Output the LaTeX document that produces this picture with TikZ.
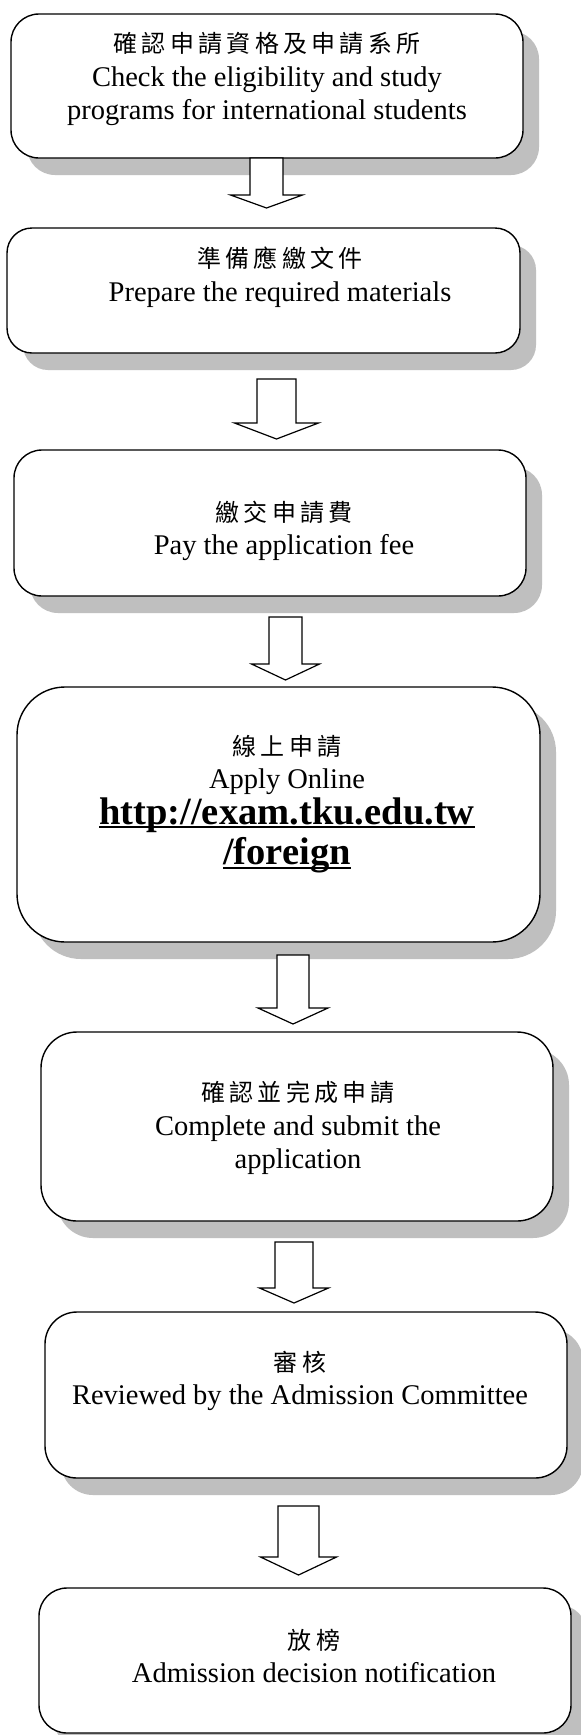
\documentclass[tikz,border=0pt]{standalone}
\usepackage{fontspec}
\setmainfont{Liberation Serif}
\newfontfamily\cjk[LetterSpace=18]{Noto Sans CJK TC}
\usetikzlibrary{calc,shadows}
\definecolor{shadowgray}{RGB}{191,191,191}
\newcommand\myul[1]{\setbox0=\hbox{#1}\rlap{\rule[-0.11em]{\wd0}{0.055em}}\box0}
\newcommand\flowarrow[5]{%
  \draw[blockarrow] ($(#1)+(-#4,0)$) -- ($(#1)+(-#4,#2)$) -- ($(#1)+(-#5,#2)$) -- ($(#1)+(0,#3)$) -- ($(#1)+(#5,#2)$) -- ($(#1)+(#4,#2)$) -- ($(#1)+(#4,0)$) -- cycle;}
\tikzset{
  flowbox/.style={draw=black, fill=white, line width=1.4pt, inner sep=0pt, outer sep=0pt,
    drop shadow={shadow xshift=16pt, shadow yshift=-17pt, fill=shadowgray, opacity=1}},
  blockarrow/.style={draw=black, fill=white, line width=1.2pt, line join=miter},
  txt/.style={align=center, inner sep=0pt, font=\fontsize{28.5}{33.5}\selectfont}
}
\newcommand\cj[1]{{\cjk\fontsize{24}{34}\selectfont #1}}
\begin{document}
\begin{tikzpicture}[x=1pt,y=-1pt]
\useasboundingbox (0,0) rectangle (581,1735);
\fill[white] (0,0) rectangle (581,1735);

% boxes
\node[flowbox, minimum width=512pt, minimum height=144pt, rounded corners=28pt] (b1) at (267,86) {};
\node[flowbox, minimum width=513pt, minimum height=125pt, rounded corners=25pt] (b2) at (263.5,290.5) {};
\node[flowbox, minimum width=512pt, minimum height=146pt, rounded corners=28pt] (b3) at (270,523) {};
\node[flowbox, minimum width=523pt, minimum height=255pt, rounded corners=48pt] (b4) at (278.5,814.5) {};
\node[flowbox, minimum width=512pt, minimum height=189pt, rounded corners=36pt] (b5) at (297,1126.5) {};
\node[flowbox, minimum width=522pt, minimum height=166pt, rounded corners=32pt] (b6) at (306,1395) {};
\node[flowbox, minimum width=532pt, minimum height=145pt, rounded corners=28pt] (b7) at (305,1660.5) {};

% texts
\node[txt] (t1) at (267,79) {\cj{確認申請資格及申請系所}\\Check the eligibility and study\\programs for international students};
\node[txt] (t2) at (280,277) {\cj{準備應繳文件}\\Prepare the required materials};
\node[txt] (t3) at (284,531) {\cj{繳交申請費}\\Pay the application fee};
\node[txt] (t4) at (287,804) {\cj{線上申請}\\Apply Online\\[2pt]
  {\fontsize{38.5}{40}\selectfont\bfseries \myul{http://exam.tku.edu.tw}}\\[4pt]
  {\fontsize{38.5}{40}\selectfont\bfseries \myul{/foreign}}};
\node[txt] (t5) at (298,1128) {\cj{確認並完成申請}\\Complete and submit the\\application};
\node[txt] (t6) at (300,1381) {\cj{審核}\\Reviewed by the Admission Committee};
\node[txt] (t7) at (314,1656) {\cj{放榜}\\Admission decision notification};

% arrows
\coordinate (a1) at (266.5,0 |- b1.south);
\coordinate (a2) at (276.5,379);
\coordinate (a3) at (285.5,617);
\coordinate (a4) at (293,955);
\coordinate (a5) at (294,1242);
\coordinate (a6) at (298.5,1506);
\flowarrow{a1}{37}{50}{16.5}{36}
\flowarrow{a2}{44}{60}{19.5}{42}
\flowarrow{a3}{47}{63}{16.5}{34}
\flowarrow{a4}{53}{69}{16}{35}
\flowarrow{a5}{46}{61}{19}{34.5}
\flowarrow{a6}{51}{69}{20.5}{38}
\end{tikzpicture}
\end{document}
